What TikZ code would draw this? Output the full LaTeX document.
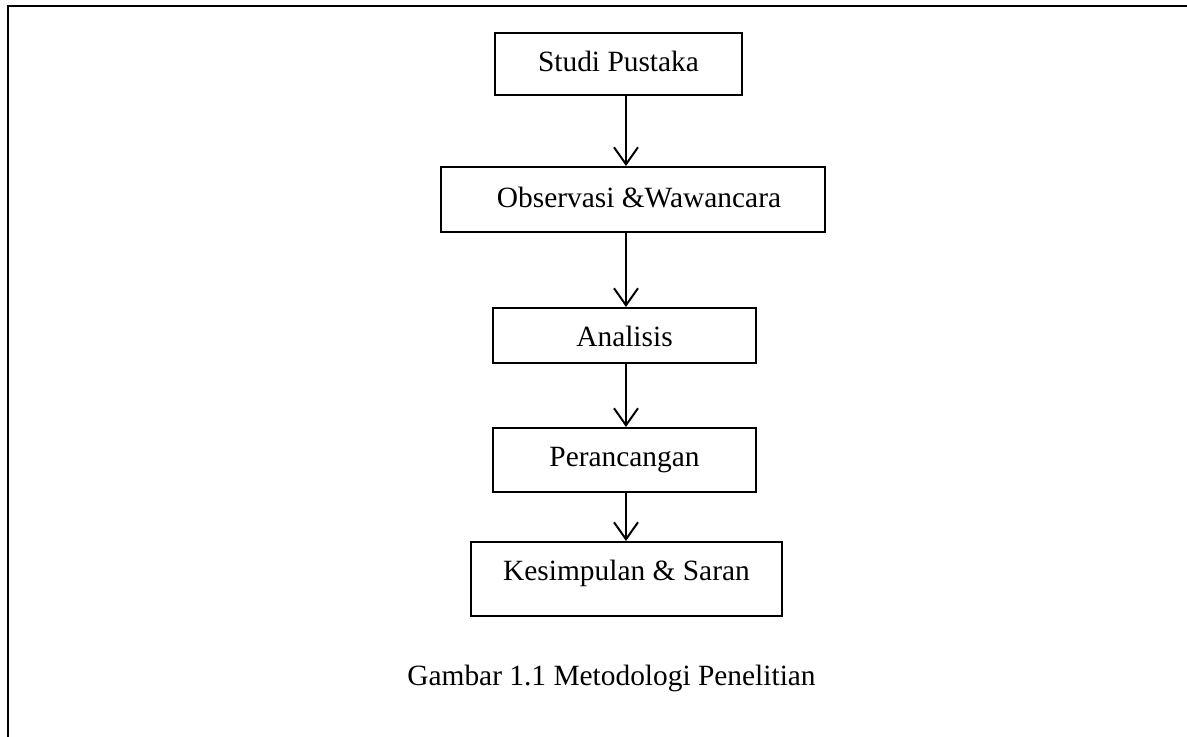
\documentclass[tikz,border=0pt]{standalone}
\usepackage{fontspec}
\setmainfont{Liberation Serif}
\usetikzlibrary{arrows.meta}

\tikzset{
  box/.style={draw,line width=1pt,inner sep=0pt,anchor=base},
  flow/.style={line width=1pt,-{Straight Barb[length=8.5pt,width=12pt,line width=1pt]}}
}

\begin{document}
\begin{tikzpicture}[x=0.5pt,y=-0.5pt,font=\fontsize{14.7}{17}\selectfont]
  \useasboundingbox (0,0) rectangle (1187,737);
  % frame
  \draw[line width=1.15pt] (8,737) -- (8,6) -- (1187,6);
  \coordinate (axis) at (626,0);
  % steps
  \node[box,minimum width=247*0.5pt,text height=19.5pt,text depth=11.5pt] (studi) at (618.5,72) {Studi Pustaka};
  \node[box,minimum width=384*0.5pt,text height=20.5pt,text depth=12pt] (obs) at (633,208) {\hspace{6pt}Observasi \&Wawancara};
  \node[box,minimum width=263*0.5pt,text height=19pt,text depth=8.5pt] (anl) at (624.5,346) {Analisis};
  \node[box,minimum width=263*0.5pt,text height=19pt,text depth=13pt] (per) at (624.5,466) {Perancangan};
  \node[box,minimum width=311*0.5pt,text height=19pt,text depth=18pt] (kes) at (626.5,580) {Kesimpulan \& Saran};
  % arrows
  \draw[flow] (studi.south -| axis) -- (obs.north -| axis);
  \draw[flow] (obs.south -| axis) -- (anl.north -| axis);
  \draw[flow] (anl.south -| axis) -- (per.north -| axis);
  \draw[flow] (per.south -| axis) -- (kes.north -| axis);
  % caption
  \node[anchor=base] (cap) at (611.5,685) {Gambar 1.1 Metodologi Penelitian};
\end{tikzpicture}
\end{document}
